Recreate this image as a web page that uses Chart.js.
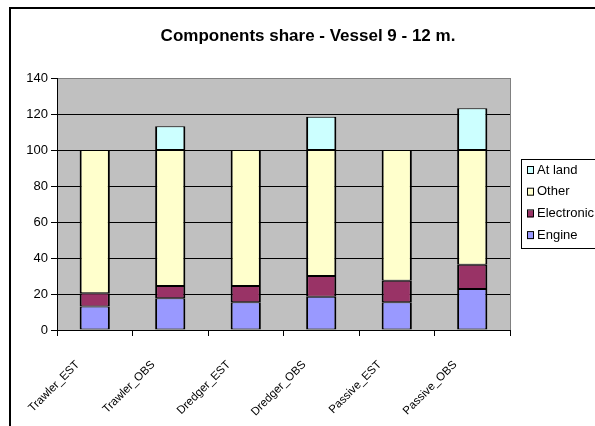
<!DOCTYPE html>
<html>
<head>
<meta charset="utf-8">
<script src="https://cdn.jsdelivr.net/npm/chart.js@4"></script>
<style>
  html, body { margin: 0; padding: 0; background: #fff; overflow: hidden; }
  #frame { position: absolute; left: 9px; top: 7px; width: 700px; height: 500px; border: 2px solid #000; }
  #wrap { position: absolute; left: 0; top: 0; width: 620px; height: 440px; }
</style>
</head>
<body>
<div id="frame"></div>
<div id="wrap"><canvas id="chart"></canvas></div>
<script>
const categories = ["Trawler_EST", "Trawler_OBS", "Dredger_EST", "Dredger_OBS", "Passive_EST", "Passive_OBS"];
const engine = [13, 17.6, 15.4, 18.5, 15.4, 22.8];
const electronic = [7.4, 6.8, 9, 11.5, 12, 13.5];
const other = [79.6, 75.6, 75.6, 70, 72.6, 63.7];
const atLand = [null, 13.2, null, 18.5, null, 23.2];
const yTicks = [0, 20, 40, 60, 80, 100, 120, 140];
const chartTitle = "Components share - Vessel 9 - 12 m.";

const FONT = "'Liberation Sans', Arial, sans-serif";

const plotBackground = {
    id: "plotBackground",
    beforeDraw(chart) {
        const { ctx, chartArea: a } = chart;
        ctx.save();
        ctx.fillStyle = "#c0c0c0";
        ctx.fillRect(a.left, a.top, a.right - a.left, a.bottom - a.top);
        ctx.restore();
    },
    afterDraw(chart) {
        const { ctx, chartArea: a } = chart;
        ctx.save();
        ctx.strokeStyle = "#808080";
        ctx.lineWidth = 1;
        ctx.beginPath();
        ctx.moveTo(a.right + 0.5, a.top);
        ctx.lineTo(a.right + 0.5, a.bottom);
        ctx.stroke();
        ctx.restore();
    }
};

const titleAndLegend = {
    id: "titleAndLegend",
    afterDraw(chart) {
        const ctx = chart.ctx;
        ctx.save();
        ctx.fillStyle = "#000";
        ctx.font = "bold 17px " + FONT;
        ctx.textAlign = "center";
        ctx.textBaseline = "middle";
        ctx.fillText(chartTitle, 308, 36);

        // legend box
        ctx.strokeStyle = "#000";
        ctx.lineWidth = 1;
        ctx.strokeRect(521.5, 159.5, 110, 89);
        ctx.font = "13px " + FONT;
        ctx.textAlign = "left";
        const sets = chart.data.datasets.slice().reverse();
        sets.forEach((ds, i) => {
            const y = 170 + i * 21.7;
            ctx.fillStyle = ds.backgroundColor;
            ctx.fillRect(527, y - 3, 6, 7);
            ctx.strokeRect(527.5, y - 3.5, 6, 7);
            ctx.fillStyle = "#000";
            ctx.fillText(ds.label, 537, y);
        });
        ctx.restore();
    }
};

const barBorder = { top: 1, bottom: 1, left: 2, right: 2 };

new Chart(document.getElementById("chart"), {
    type: "bar",
    data: {
        labels: categories,
        datasets: [
            { label: "Engine", data: engine, backgroundColor: "#9999ff" },
            { label: "Electronic", data: electronic, backgroundColor: "#993366" },
            { label: "Other", data: other, backgroundColor: "#ffffcc" },
            { label: "At land", data: atLand, backgroundColor: "#ccffff" }
        ].map(d => Object.assign(d, {
            borderColor: "#000",
            borderWidth: barBorder,
            borderSkipped: false,
            barPercentage: 0.4,
            categoryPercentage: 1
        }))
    },
    options: {
        responsive: true,
        maintainAspectRatio: false,
        animation: false,
        layout: { padding: { top: 78, left: 0, right: 110, bottom: 0 } },
        plugins: {
            legend: { display: false },
            title: { display: false },
            tooltip: { enabled: false }
        },
        scales: {
            x: {
                stacked: true,
                afterFit: s => { s.height = 110; },
                grid: { offset: true, drawOnChartArea: false, drawTicks: true, tickLength: 6, tickColor: "#000" },
                border: { display: true, color: "#000", width: 1 },
                ticks: {
                    color: "#000",
                    font: { family: FONT, size: 11.5 },
                    minRotation: 45,
                    maxRotation: 45,
                    autoSkip: false,
                    padding: 22,
                    labelOffset: -17
                }
            },
            y: {
                stacked: true,
                min: 0,
                max: 140,
                afterFit: s => { s.width = 57; },
                afterBuildTicks: s => { s.ticks = yTicks.map(v => ({ value: v })); },
                grid: {
                    color: c => (c.tick && c.tick.value === 140 ? "#808080" : "#000"),
                    tickColor: "#000",
                    tickLength: 6,
                    lineWidth: 1
                },
                border: { display: true, color: "#000", width: 1 },
                ticks: {
                    color: "#000",
                    font: { family: FONT, size: 13 },
                    padding: 3
                }
            }
        }
    },
    plugins: [plotBackground, titleAndLegend]
});
</script>
</body>
</html>
